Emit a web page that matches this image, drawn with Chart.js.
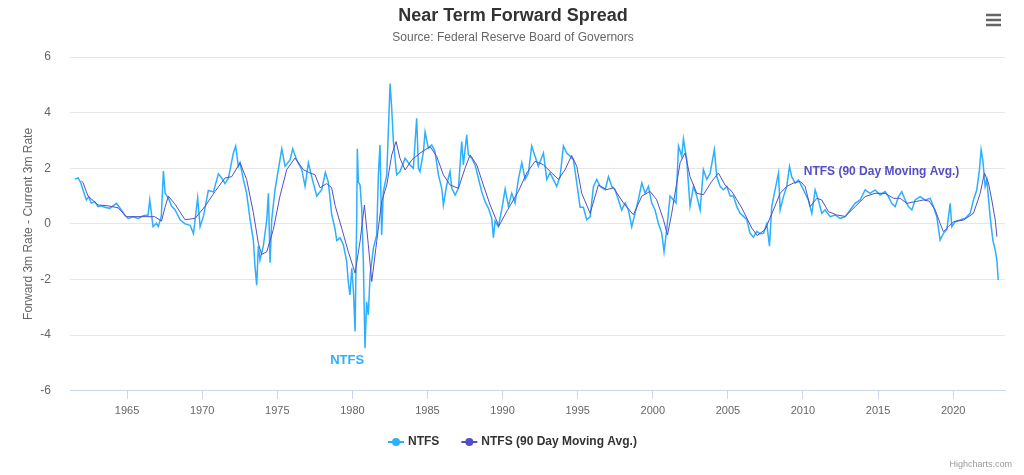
<!DOCTYPE html>
<html>
<head>
<meta charset="utf-8">
<script src="https://cdn.jsdelivr.net/npm/chart.js@4.4.1/dist/chart.umd.min.js"></script>
<style>
  html, body { margin: 0; padding: 0; background: #fff; }
  #wrap { width: 1024px; height: 475px; }
</style>
</head>
<body>
<div id="wrap"><canvas id="myChart" width="1024" height="475"></canvas></div>
<script>
// Near term forward spread
var ntfsYears = [
  1961.52, 1961.74, 1961.92, 1962.07, 1962.29, 1962.45, 1962.62, 1962.84, 1963.07, 1963.29,
  1963.51, 1963.84, 1964.29, 1964.62, 1964.84, 1965.07, 1965.4, 1965.73, 1966.07, 1966.4,
  1966.51, 1966.73, 1966.95, 1967.08, 1967.28, 1967.42, 1967.53, 1967.75, 1967.97, 1968.2,
  1968.53, 1968.86, 1969.2, 1969.42, 1969.7, 1969.86, 1970.08, 1970.41, 1970.75, 1971.08,
  1971.3, 1971.52, 1971.75, 1972.08, 1972.23, 1972.41, 1972.52, 1972.74, 1972.96, 1973.19,
  1973.41, 1973.52, 1973.63, 1973.74, 1973.85, 1974.07, 1974.3, 1974.41, 1974.52, 1974.63,
  1974.85, 1975.07, 1975.3, 1975.52, 1975.85, 1976.03, 1976.29, 1976.63, 1976.85, 1977.07,
  1977.29, 1977.63, 1977.96, 1978.2, 1978.4, 1978.62, 1978.85, 1978.96, 1979.18, 1979.4,
  1979.62, 1979.73, 1979.84, 1979.96, 1980.07, 1980.18, 1980.29, 1980.33, 1980.4, 1980.51,
  1980.62, 1980.73, 1980.84, 1980.95, 1981.06, 1981.18, 1981.4, 1981.62, 1981.73, 1981.84,
  1981.95, 1982.06, 1982.29, 1982.51, 1982.62, 1982.73, 1982.95, 1983.17, 1983.51, 1983.84,
  1984.06, 1984.28, 1984.4, 1984.5, 1984.73, 1984.84, 1985.06, 1985.28, 1985.5, 1985.73,
  1985.95, 1986.06, 1986.28, 1986.5, 1986.62, 1986.84, 1987.06, 1987.28, 1987.39, 1987.61,
  1987.72, 1987.95, 1988.17, 1988.39, 1988.61, 1988.83, 1989.06, 1989.28, 1989.39, 1989.5,
  1989.72, 1989.94, 1990.17, 1990.39, 1990.61, 1990.83, 1991.05, 1991.28, 1991.5, 1991.72,
  1991.94, 1992.16, 1992.38, 1992.72, 1992.94, 1993.16, 1993.38, 1993.6, 1993.83, 1994.05,
  1994.27, 1994.5, 1994.72, 1994.94, 1995.16, 1995.38, 1995.6, 1995.83, 1996.05, 1996.27,
  1996.49, 1996.83, 1997.05, 1997.27, 1997.49, 1997.71, 1997.93, 1998.16, 1998.38, 1998.6,
  1998.82, 1999.04, 1999.27, 1999.49, 1999.71, 1999.93, 2000.15, 2000.37, 2000.6, 2000.75,
  2000.93, 2001.15, 2001.37, 2001.55, 2001.71, 2001.93, 2002.04, 2002.26, 2002.48, 2002.71,
  2002.93, 2003.15, 2003.37, 2003.6, 2003.82, 2004.1, 2004.26, 2004.48, 2004.7, 2004.93,
  2005.15, 2005.37, 2005.59, 2005.81, 2006.04, 2006.26, 2006.48, 2006.7, 2006.92, 2007.14,
  2007.37, 2007.59, 2007.77, 2007.92, 2008.14, 2008.37, 2008.48, 2008.7, 2008.92, 2009.1,
  2009.25, 2009.48, 2009.7, 2009.92, 2010.14, 2010.37, 2010.59, 2010.81, 2011.03, 2011.25,
  2011.47, 2011.81, 2012.14, 2012.47, 2012.81, 2013.14, 2013.47, 2013.8, 2014.14, 2014.47,
  2014.8, 2015.14, 2015.47, 2015.69, 2015.91, 2016.14, 2016.36, 2016.58, 2016.8, 2017.02,
  2017.25, 2017.47, 2017.8, 2018.13, 2018.47, 2018.69, 2018.91, 2019.13, 2019.35, 2019.58,
  2019.8, 2019.91, 2020.13, 2020.46, 2020.8, 2021.13, 2021.35, 2021.57, 2021.75, 2021.86,
  2021.97, 2022.13, 2022.24, 2022.46, 2022.64, 2022.8, 2022.91, 2023.0
];
var ntfsValues = [
  1.61, 1.65, 1.47, 1.22, 0.86, 0.98, 0.74, 0.8, 0.62, 0.65,
  0.6, 0.56, 0.74, 0.5, 0.32, 0.2, 0.26, 0.2, 0.29, 0.32,
  0.86, -0.1, 0.02, -0.1, 0.28, 1.9, 1.1, 0.93, 0.63, 0.5,
  0.15, 0.0, -0.05, -0.35, 0.93, -0.1, 0.27, 1.2, 1.15, 1.8,
  1.65, 1.45, 1.65, 2.55, 2.8, 2.07, 2.2, 1.6, 1.1, 0.15,
  -0.6, -1.55, -2.2, -0.8, -1.3, -0.8, 0.15, 1.1, -1.4, 0.15,
  1.23, 1.95, 2.7, 2.07, 2.3, 2.7, 2.3, 1.95, 1.35, 2.2,
  1.7, 1.0, 1.23, 1.85, 1.5, 0.35, -0.2, -0.6, -0.5, -0.75,
  -1.35, -2.1, -2.55, -1.6, -2.4, -3.87, 0.3, 2.7, 1.5, 1.4,
  0.56, -1.35, -4.47, -2.8, -3.27, -1.83, -0.87, -0.4, 1.76, 2.84,
  -0.4, 1.16, 1.76, 5.05, 4.15, 2.96, 1.76, 1.88, 2.36, 2.12,
  2.0, 3.8, 2.0, 1.88, 2.6, 3.3, 2.72, 2.84, 2.6, 1.76,
  1.28, 0.68, 1.4, 1.88, 1.28, 1.04, 1.28, 2.96, 2.12, 3.2,
  2.48, 2.36, 2.12, 1.64, 1.16, 0.8, 0.56, 0.2, -0.5, 0.1,
  -0.1, 0.5, 1.25, 0.63, 1.1, 0.75, 1.6, 2.2, 1.6, 1.83,
  2.8, 2.43, 2.07, 2.55, 1.6, 1.83, 1.6, 1.35, 1.7, 2.8,
  2.55, 2.43, 2.3, 1.47, 0.6, 0.6, 0.15, 0.25, 1.35, 1.6,
  1.35, 1.23, 1.7, 1.35, 1.23, 0.87, 0.5, 0.75, 0.5, -0.1,
  0.38, 0.87, 1.47, 1.1, 1.35, 0.75, 0.5, 0.02, -0.34, -1.0,
  -0.2, 1.0, 0.87, 0.75, 2.8, 2.43, 3.05, 2.3, 0.63, 1.35,
  1.0, 0.5, 1.95, 1.6, 1.83, 2.67, 1.7, 1.35, 1.23, 1.35,
  1.0, 1.0, 0.63, 0.38, 0.27, 0.15, -0.34, -0.48, -0.27, -0.35,
  -0.34, 0.0, -0.8, 0.62, 1.22, 1.83, 0.5, 0.98, 1.35, 2.07,
  1.7, 1.47, 1.58, 1.35, 1.1, 0.84, 0.38, 1.22, 0.84, 0.38,
  0.5, 0.26, 0.32, 0.2, 0.26, 0.5, 0.74, 0.86, 1.22, 1.1,
  1.22, 1.04, 1.16, 0.98, 0.74, 0.62, 0.98, 1.16, 0.86, 0.62,
  0.5, 0.86, 0.98, 0.86, 0.92, 0.62, 0.26, -0.58, -0.34, -0.2,
  0.74, -0.1, 0.08, 0.14, 0.2, 0.38, 0.86, 1.22, 1.95, 2.67,
  2.3, 1.35, 1.58, 0.26, -0.58, -0.94, -1.3, -2.02
];

// 90 day moving average
var maYears = [
  1961.96, 1962.07, 1962.4, 1963.07, 1963.73, 1964.4, 1964.95, 1965.95, 1966.84, 1967.29,
  1967.53, 1967.75, 1968.2, 1968.86, 1969.53, 1970.19, 1970.86, 1971.52, 1971.97, 1972.52,
  1972.96, 1973.41, 1973.74, 1973.96, 1974.3, 1974.74, 1975.18, 1975.63, 1976.18, 1976.74,
  1977.18, 1977.51, 1977.85, 1978.29, 1978.62, 1978.85, 1979.29, 1979.73, 1980.18, 1980.51,
  1980.8, 1981.06, 1981.29, 1981.62, 1981.95, 1982.29, 1982.62, 1982.91, 1983.17, 1983.51,
  1983.95, 1984.5, 1985.17, 1985.62, 1986.06, 1986.5, 1987.06, 1987.5, 1987.84, 1988.28,
  1988.72, 1989.17, 1989.75, 1990.3, 1991.05, 1991.61, 1992.16, 1992.72, 1993.27, 1993.72,
  1994.16, 1994.6, 1994.94, 1995.27, 1995.83, 1996.38, 1996.94, 1997.38, 1998.05, 1998.71,
  1999.27, 1999.82, 2000.26, 2000.71, 2000.98, 2001.26, 2001.82, 2002.15, 2002.48, 2002.93,
  2003.37, 2003.93, 2004.37, 2004.81, 2005.26, 2005.93, 2006.59, 2006.95, 2007.48, 2008.03,
  2008.48, 2008.92, 2009.37, 2009.81, 2010.14, 2010.48, 2010.92, 2011.25, 2011.7, 2012.25,
  2012.81, 2013.47, 2014.14, 2014.8, 2015.47, 2016.03, 2016.47, 2016.91, 2017.47, 2018.02,
  2018.4, 2018.8, 2019.13, 2019.35, 2019.69, 2020.02, 2020.69, 2021.35, 2021.8, 2022.08,
  2022.35, 2022.57, 2022.8, 2022.91
];
var maValues = [
  1.55, 1.48, 1.0, 0.68, 0.65, 0.58, 0.26, 0.26, 0.26, 0.1,
  0.6, 1.0, 0.7, 0.15, 0.2, 0.63, 1.17, 1.65, 1.7, 2.2,
  1.6, 0.4, -0.7, -1.1, -1.0, -0.2, 1.0, 1.95, 2.37, 1.95,
  1.83, 1.77, 1.3, 1.45, 1.3, 0.66, -0.16, -1.0, -1.77, -0.63,
  0.68, -0.75, -2.07, -0.63, 0.8, 1.4, 2.48, 2.96, 2.36, 1.94,
  2.3, 2.54, 2.78, 2.42, 1.76, 1.4, 1.28, 2.0, 2.48, 2.12,
  1.4, 0.68, -0.08, 0.47, 1.17, 1.83, 2.25, 2.13, 1.83, 1.6,
  1.95, 2.46, 2.07, 1.1, 0.38, 1.4, 1.23, 1.3, 0.75, 0.33,
  1.0, 1.17, 0.87, 0.15, -0.4, 0.38, 2.2, 2.55, 1.7, 1.1,
  1.05, 1.53, 1.83, 1.4, 1.17, 0.57, -0.15, -0.42, -0.2, 0.5,
  1.1, 1.35, 1.47, 1.53, 1.35, 0.62, 0.92, 0.86, 0.44, 0.32,
  0.27, 0.62, 0.98, 1.1, 1.1, 0.92, 0.92, 0.74, 0.8, 0.86,
  0.82, 0.5, 0.02, -0.28, -0.1, 0.08, 0.14, 0.38, 1.1, 1.83,
  1.47, 0.86, 0.14, -0.46
];

var tickYears = [1965, 1970, 1975, 1980, 1985, 1990, 1995, 2000, 2005, 2010, 2015, 2020];

var ntfsColor = '#2caffe';
var maColor = '#544fc5';
var fontFamily = '"Liberation Sans", Helvetica, Arial, sans-serif';

function toPoints(xs, ys) {
    var out = [];
    for (var i = 0; i < xs.length; i++) {
        out.push({ x: xs[i], y: ys[i] });
    }
    return out;
}

// menu icon, series labels, legend and credits
var extras = {
    id: 'extras',
    afterDraw: function (chart) {
        var ctx = chart.ctx;
        var xs = chart.scales.x, ys = chart.scales.y;
        ctx.save();

        // context menu button
        ctx.strokeStyle = '#666';
        ctx.lineWidth = 2.5;
        [15, 20, 25].forEach(function (y) {
            ctx.beginPath(); ctx.moveTo(986, y); ctx.lineTo(1001, y); ctx.stroke();
        });

        // series labels
        ctx.textBaseline = 'middle';
        ctx.font = 'bold 13px ' + fontFamily;
        ctx.fillStyle = ntfsColor;
        ctx.textAlign = 'center';
        ctx.fillText('NTFS', xs.getPixelForValue(1979.65), ys.getPixelForValue(-4.9));
        ctx.font = 'bold 12px ' + fontFamily;
        ctx.fillStyle = maColor;
        ctx.textAlign = 'left';
        ctx.fillText('NTFS (90 Day Moving Avg.)', xs.getPixelForValue(2010.05), ys.getPixelForValue(1.87));

        // legend, line + dot symbols
        ctx.font = 'bold 12px ' + fontFamily;
        var items = chart.data.datasets.map(function (ds) {
            return { text: ds.label, color: ds.borderColor, w: 20 + ctx.measureText(ds.label).width };
        });
        var gap = 22;
        var total = items.reduce(function (s, it) { return s + it.w; }, 0) + gap * (items.length - 1);
        var lx = Math.round(512 - total / 2);
        var ly = 442;
        items.forEach(function (it) {
            ctx.strokeStyle = it.color;
            ctx.lineWidth = 2;
            ctx.beginPath(); ctx.moveTo(lx, ly); ctx.lineTo(lx + 16, ly); ctx.stroke();
            ctx.fillStyle = it.color;
            ctx.beginPath(); ctx.arc(lx + 8, ly, 4, 0, Math.PI * 2); ctx.fill();
            ctx.fillStyle = '#333';
            ctx.textAlign = 'left';
            ctx.fillText(it.text, lx + 20, ly);
            lx += it.w + gap;
        });

        // credits
        ctx.font = '9px ' + fontFamily;
        ctx.fillStyle = '#999';
        ctx.textAlign = 'right';
        ctx.fillText('Highcharts.com', 1012, 465);
        ctx.restore();
    }
};

var grafico = new Chart(document.getElementById('myChart'), {
    type: 'line',
    data: {
        datasets: [{
            label: 'NTFS',
            data: toPoints(ntfsYears, ntfsValues),
            borderColor: ntfsColor,
            borderWidth: 1.5,
            pointRadius: 0,
            order: 2
        }, {
            label: 'NTFS (90 Day Moving Avg.)',
            data: toPoints(maYears, maValues),
            borderColor: maColor,
            borderWidth: 1,
            pointRadius: 0,
            order: 1
        }]
    },
    options: {
        responsive: false,
        animation: false,
        layout: { padding: { left: 21, right: 19, top: 0, bottom: 51 } },
        scales: {
            x: {
                type: 'linear',
                min: 1961.2,
                max: 2023.45,
                afterBuildTicks: function (scale) {
                    scale.ticks = tickYears.map(function (v) { return { value: v }; });
                },
                ticks: {
                    color: '#666',
                    font: { family: fontFamily, size: 11 },
                    maxRotation: 0,
                    padding: 6,
                    callback: function (v) { return String(v); }
                },
                grid: { drawOnChartArea: false, drawTicks: true, tickLength: 8, color: '#ccd6eb' },
                border: { display: true, color: '#ccd6eb' }
            },
            y: {
                min: -6,
                max: 6,
                afterFit: function (scale) { scale.width = 49; },
                ticks: {
                    stepSize: 2,
                    color: '#666',
                    font: { family: fontFamily, size: 12 },
                    padding: 19
                },
                grid: { color: '#e6e6e6', drawTicks: false },
                border: { display: false },
                title: {
                    display: true,
                    text: 'Forward 3m Rate - Current 3m Rate',
                    color: '#666',
                    font: { family: fontFamily, size: 12 },
                    padding: 0
                }
            }
        },
        plugins: {
            title: {
                display: true,
                text: 'Near Term Forward Spread',
                color: '#333',
                font: { family: fontFamily, size: 18, weight: 'bold' },
                padding: { top: 5, bottom: 4 }
            },
            subtitle: {
                display: true,
                text: 'Source: Federal Reserve Board of Governors',
                color: '#666',
                font: { family: fontFamily, size: 12 },
                padding: { top: 0, bottom: 12 }
            },
            legend: { display: false },
            tooltip: { enabled: false }
        }
    },
    plugins: [extras]
});
</script>
</body>
</html>
